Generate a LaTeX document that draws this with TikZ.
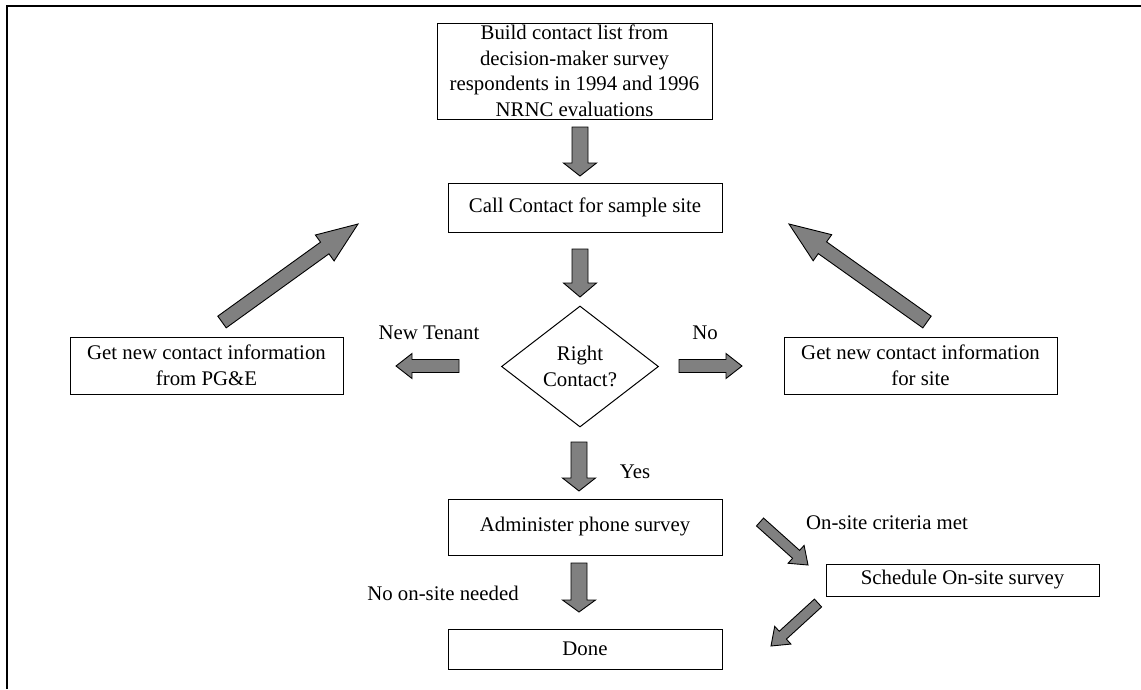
\documentclass[tikz,border=0pt]{standalone}
\usepackage{fontspec}
\setmainfont{Liberation Serif}
\usetikzlibrary{calc,shapes.geometric}
\newcommand\blockarrow[5]{%
  \coordinate (bh) at ($(#2)!#5!(#1)$);
  \draw[barrow] ($(#1)!#3!90:(#2)$) -- ($(bh)!#3!90:(#2)$) -- ($(bh)!#4!90:(#2)$) -- (#2)
    -- ($(bh)!#4!-90:(#2)$) -- ($(bh)!#3!-90:(#2)$) -- ($(#1)!#3!-90:(#2)$) -- cycle;}
\tikzset{
  txt/.style={font=\fontsize{20.8}{25.5}\selectfont, align=center, inner sep=0pt},
  box/.style={txt, draw, line width=1pt},
  barrow/.style={draw=black, fill=black!50, line width=0.9pt, line join=miter},
}
\begin{document}
\begin{tikzpicture}[x=1pt,y=-1pt]
\useasboundingbox (0,0) rectangle (1141,689);
\draw[line width=1.6pt] (7,689) -- (7,6) -- (1141,6);

% boxes
\node[box, minimum width=275pt, minimum height=96pt] (build) at (574.5,71)
  {Build contact list from\\decision-maker survey\\respondents in 1994 and 1996\\NRNC evaluations};
\node[box, minimum width=274pt, minimum height=49pt] (call) at (585,207.5) {Call Contact for sample site};
\node[box, diamond, minimum width=157pt, minimum height=121pt] (right) at (580,366.5) {Right\\Contact?};
\node[box, minimum width=273pt, minimum height=57pt] (pge) at (206.5,365.5) {Get new contact information\\from PG\&E};
\node[box, minimum width=273pt, minimum height=57pt] (site) at (920.5,365.5) {Get new contact information\\for site};
\node[box, minimum width=274pt, minimum height=56pt] (admin) at (585,527) {Administer phone survey};
\node[box, minimum width=274pt, minimum height=40pt] (done) at (585,649) {Done};
\node[box, minimum width=273pt, minimum height=32pt] (sched) at (962.5,580) {Schedule On-site survey};

% labels
\node[txt] (lnt) at (429,333) {New Tenant};
\node[txt] (lno) at (705,333) {No};
\node[txt] (lyes) at (635,472) {Yes};
\node[txt] (lnos) at (443,593) {No on-site needed};
\node[txt] (lcrit) at (887,523) {On-site criteria met};

% arrow end points
\coordinate (a1s) at (580,127);  \coordinate (a1e) at (580,176);
\coordinate (a2s) at (580,249);  \coordinate (a2e) at (580,297);
\coordinate (a3s) at (459,366);  \coordinate (a3e) at (396,366);
\coordinate (a4s) at (679,366);  \coordinate (a4e) at (742,366);
\coordinate (a5s) at (579,442);  \coordinate (a5e) at (579,491);
\coordinate (a6s) at (579,563);  \coordinate (a6e) at (579,612);
\coordinate (a7s) at (222,322);  \coordinate (a7e) at (358,224);
\coordinate (a8s) at (927,322);  \coordinate (a8e) at (789,224);
\coordinate (a9s) at (760,522);  \coordinate (a9e) at (808,565);
\coordinate (a10s) at (818,603); \coordinate (a10e) at (771,646);

\blockarrow{a1s}{a1e}{8pt}{16.5pt}{13pt}
\blockarrow{a2s}{a2e}{8pt}{16.5pt}{14pt}
\blockarrow{a3s}{a3e}{6.5pt}{12.5pt}{16pt}
\blockarrow{a4s}{a4e}{6.5pt}{12.5pt}{16pt}
\blockarrow{a5s}{a5e}{8pt}{16.5pt}{13pt}
\blockarrow{a6s}{a6e}{8pt}{16.5pt}{12pt}
\blockarrow{a7s}{a7e}{7.2pt}{16pt}{41pt}
\blockarrow{a8s}{a8e}{7.2pt}{16pt}{41pt}
\blockarrow{a9s}{a9e}{5.3pt}{12pt}{16pt}
\blockarrow{a10s}{a10e}{5.3pt}{12pt}{16pt}
\end{tikzpicture}
\end{document}
